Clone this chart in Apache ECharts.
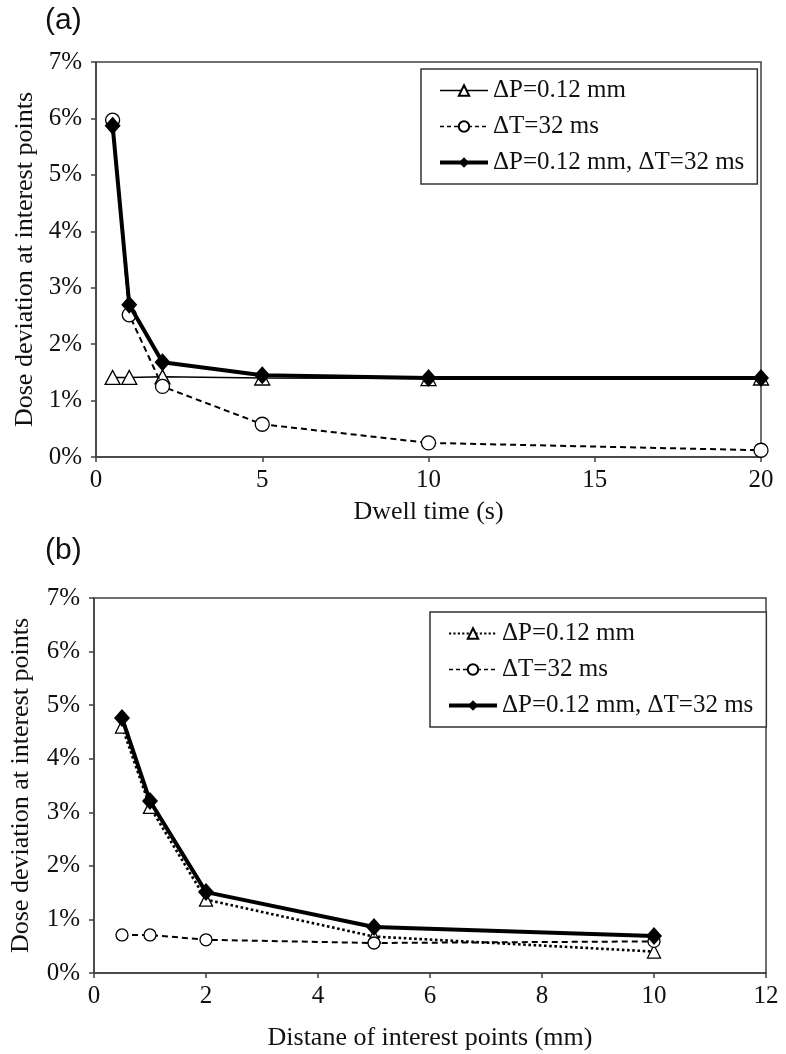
<!DOCTYPE html>
<html><head><meta charset="utf-8">
<script src="https://cdn.jsdelivr.net/npm/echarts@6/dist/echarts.min.js"></script>
<style>html,body{margin:0;padding:0;background:#fff}#c{width:786px;height:1054px}</style>
</head><body><div id="c"></div>
<script>
// ---- data ----
const dwellTimes = [0.5, 1, 2, 5, 10, 20];
const a_dP   = [1.41, 1.41, 1.42, 1.40, 1.39, 1.40];
const a_dT   = [5.97, 2.52, 1.25, 0.58, 0.25, 0.12];
const a_both = [5.87, 2.70, 1.68, 1.45, 1.40, 1.40];

const distances = [0.5, 1, 2, 5, 10];
const b_dP   = [4.60, 3.10, 1.37, 0.68, 0.40];
const b_dT   = [0.71, 0.71, 0.62, 0.56, 0.59];
const b_both = [4.76, 3.21, 1.51, 0.86, 0.69];

const namesA = ['ΔP=0.12 mm', 'ΔT=32 ms', 'ΔP=0.12 mm, ΔT=32 ms'];
const namesB = namesA.map(s => s.replace(/ /g, '\u00A0'));
const panelLabels = ['(a)', '(b)'];
const xTitles = ['Dwell time (s)', 'Distane of interest points (mm)'];
const yTitle = 'Dose deviation at interest points';

// ---- helpers ----
const SERIF = "'Liberation Serif','Times New Roman',serif";
const pts = (xs, ys) => xs.map((x, i) => [x, ys[i]]);
const AX = '#404040';

function triSeries(name, idx, xs, ys, lineType, size) {
  return { name, type: 'line', xAxisIndex: idx, yAxisIndex: idx, data: pts(xs, ys), z: 2,
    symbol: 'triangle', symbolSize: size, showAllSymbol: true,
    itemStyle: { color: '#fff', borderColor: '#000', borderWidth: 1.3 },
    lineStyle: { color: '#000', width: lineType === 'dotted' ? 2.6 : 1.5, type: lineType } };
}
function circSeries(name, idx, xs, ys, size) {
  return { name, type: 'line', xAxisIndex: idx, yAxisIndex: idx, data: pts(xs, ys), z: 3,
    symbol: 'circle', symbolSize: size, showAllSymbol: true,
    itemStyle: { color: '#fff', borderColor: '#000', borderWidth: 1.3 },
    lineStyle: { color: '#000', width: 2, type: [6, 4] } };
}
function diaSeries(name, idx, xs, ys, size) {
  return { name, type: 'line', xAxisIndex: idx, yAxisIndex: idx, data: pts(xs, ys), z: 4,
    symbol: 'diamond', symbolSize: size, showAllSymbol: true,
    itemStyle: { color: '#000', borderColor: '#000', borderWidth: 0 },
    lineStyle: { color: '#000', width: 4 } };
}
function xAxis(idx, max, interval, name, nameGap) {
  return { type: 'value', gridIndex: idx, min: 0, max, interval,
    name, nameLocation: 'middle', nameGap,
    nameTextStyle: { fontFamily: SERIF, fontSize: 26, color: '#111' },
    axisLine: { show: true, lineStyle: { color: AX, width: 1.5 } },
    axisTick: { show: true, inside: false, length: 5, lineStyle: { color: AX, width: 1.5 } },
    axisLabel: { fontFamily: SERIF, fontSize: 25, color: '#111', margin: 11 },
    splitLine: { show: false } };
}
function yAxis(idx, nameGap) {
  return { type: 'value', gridIndex: idx, min: 0, max: 7, interval: 1,
    name: yTitle, nameLocation: 'middle', nameGap, nameRotate: 90,
    nameTextStyle: { fontFamily: SERIF, fontSize: 26, color: '#111' },
    axisLine: { show: true, lineStyle: { color: AX, width: 1.5 } },
    axisTick: { show: true, inside: false, length: 5, lineStyle: { color: AX, width: 1.5 } },
    axisLabel: { fontFamily: SERIF, fontSize: 25, color: '#111', margin: 14, formatter: v => v + '%' },
    splitLine: { show: false } };
}
function legend(left, top, names, firstType) {
  return { orient: 'vertical', left, top, padding: [9, 13, 9, 17],
    borderColor: '#333', borderWidth: 1.5, backgroundColor: '#fff',
    itemWidth: 48, itemHeight: 13, itemGap: 11, selectedMode: false,
    textStyle: { fontFamily: SERIF, fontSize: 25, color: '#111' },
    data: [
      { name: names[0], lineStyle: { width: firstType === 'dotted' ? 2.2 : 1.5, type: firstType } },
      { name: names[1], lineStyle: { width: 1.6, type: [4, 3] } },
      { name: names[2], lineStyle: { width: 4, type: 'solid' } }
    ] };
}

const chart = echarts.init(document.getElementById('c'), null, { renderer: 'canvas' });
chart.setOption({
  animation: false,
  backgroundColor: '#fff',
  grid: [
    { left: 96, top: 62, width: 665, height: 395, show: true, borderColor: AX, borderWidth: 1.5, backgroundColor: 'transparent' },
    { left: 93, top: 598, width: 673, height: 375, show: true, borderColor: AX, borderWidth: 1.5, backgroundColor: 'transparent' }
  ],
  xAxis: [ xAxis(0, 20, 5, xTitles[0], 42), xAxis(1, 12, 2, xTitles[1], 52) ],
  yAxis: [ yAxis(0, 58), yAxis(1, 60) ],
  legend: [ legend(421, 69, namesA, 'solid'), legend(430, 612, namesB, 'dotted') ],
  graphic: [
    { type: 'text', left: 45, top: 6, style: { text: panelLabels[0], font: "30px 'Liberation Sans', Arial, sans-serif", fill: '#111' } },
    { type: 'text', left: 45, top: 536, style: { text: panelLabels[1], font: "30px 'Liberation Sans', Arial, sans-serif", fill: '#111' } }
  ],
  series: [
    triSeries(namesA[0], 0, dwellTimes, a_dP, 'solid', [15, 14]),
    circSeries(namesA[1], 0, dwellTimes, a_dT, 14),
    diaSeries(namesA[2], 0, dwellTimes, a_both, [16, 18]),
    triSeries(namesB[0], 1, distances, b_dP, 'dotted', [13, 13]),
    circSeries(namesB[1], 1, distances, b_dT, 12),
    diaSeries(namesB[2], 1, distances, b_both, [16, 18])
  ]
});
</script></body></html>
